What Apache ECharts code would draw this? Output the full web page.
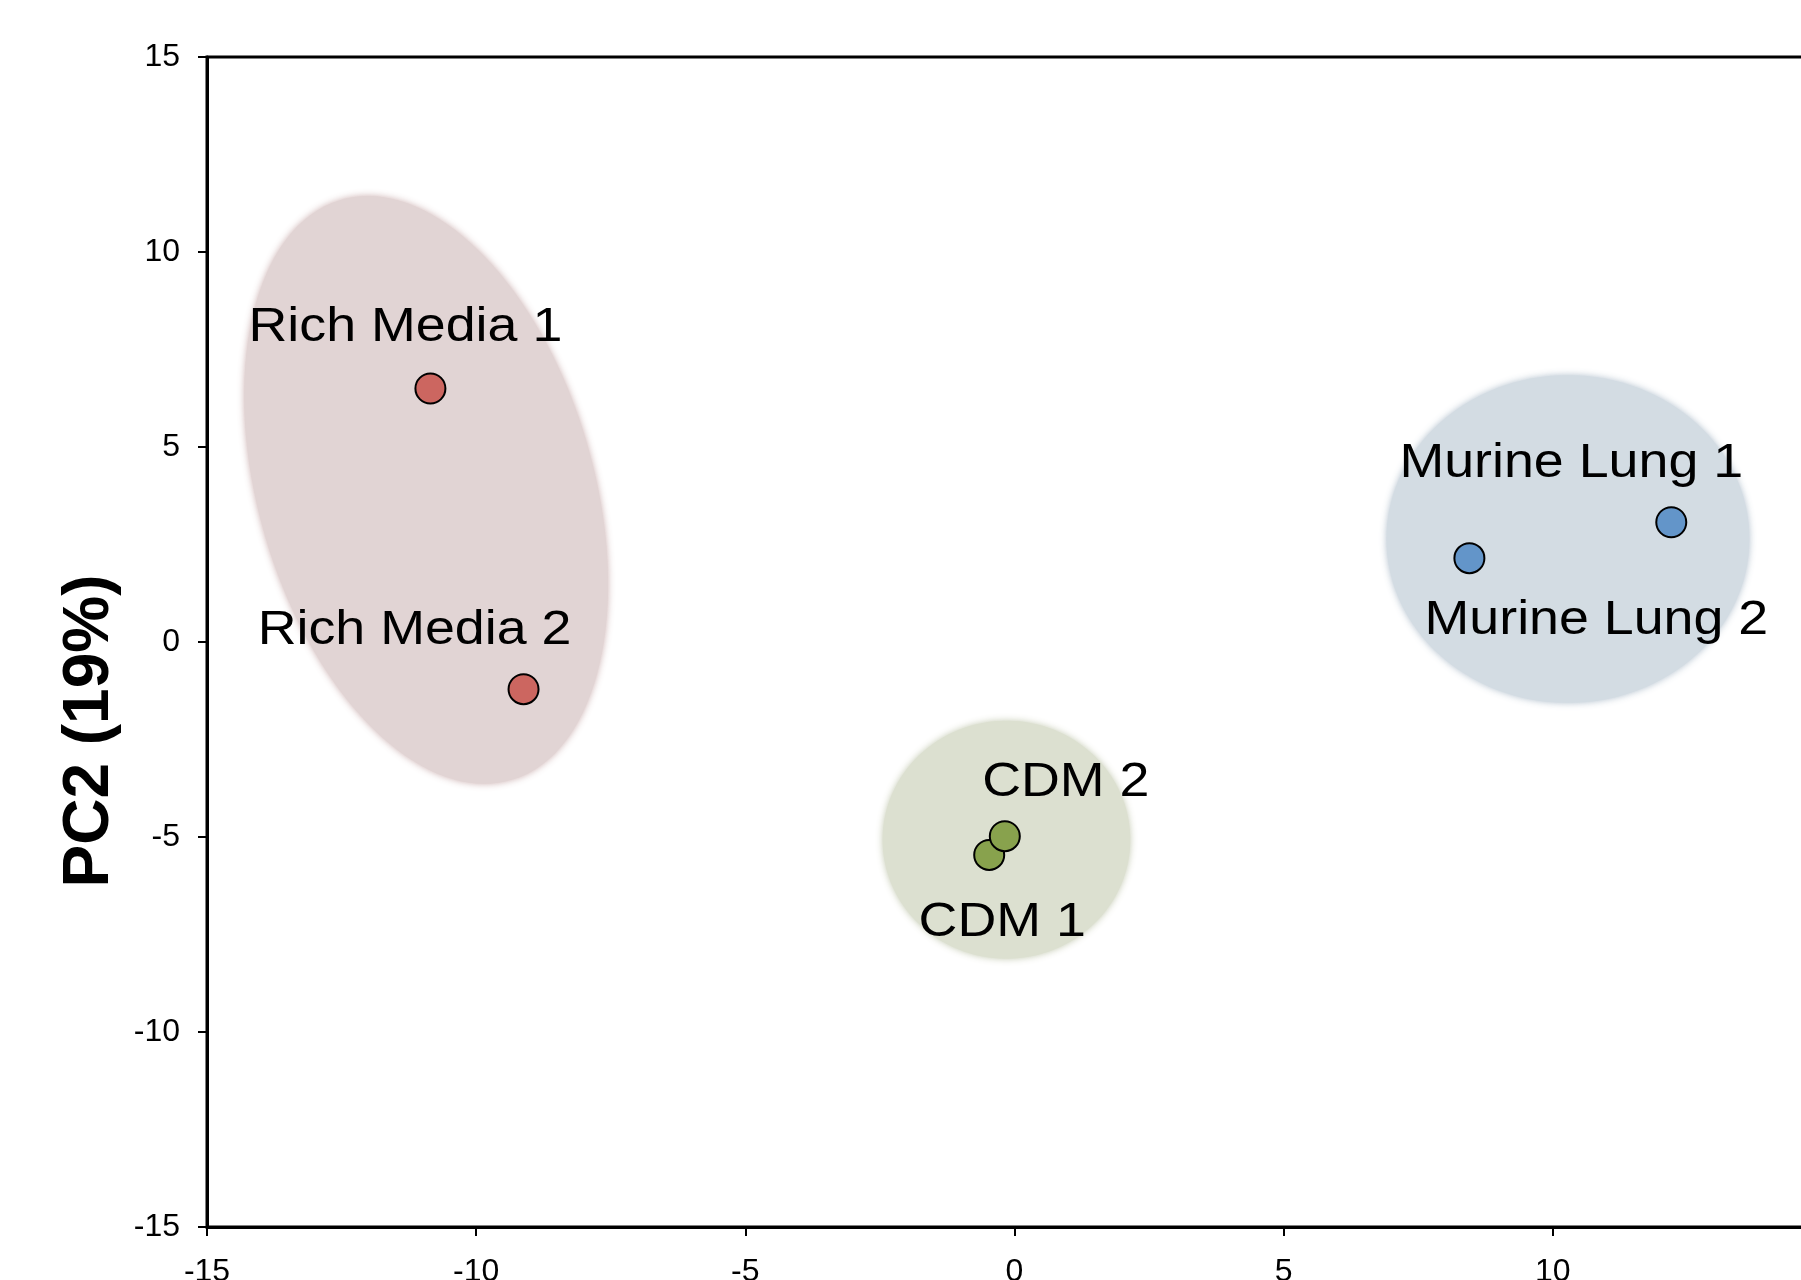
<!DOCTYPE html>
<html><head><meta charset="utf-8">
<script src="https://cdn.jsdelivr.net/npm/echarts@6/dist/echarts.min.js"></script>
<style>html,body{margin:0;padding:0;background:#fff}#c{width:1801px;height:1280px}</style>
</head><body><div id="c"></div>
<script>
// ---- data ----
const groups = ['Rich Media', 'CDM', 'Murine Lung'];
const sampleNames = ['Rich Media 1', 'Rich Media 2', 'CDM 1', 'CDM 2', 'Murine Lung 1', 'Murine Lung 2'];
const sampleGroup = [0, 0, 1, 1, 2, 2];
const pc1 = [-10.85, -9.12, -0.47, -0.18, 12.2, 8.45];
const pc2 = [6.5, -1.21, -5.46, -4.98, 3.07, 2.15];
const ellipseCenterX = [-10.93, -0.15, 10.28];
const ellipseCenterY = [3.9, -5.07, 2.64];
const ellipseRadiusX = [3.11, 2.3, 3.37];
const ellipseRadiusY = [7.75, 3.05, 4.2];
const ellipseAngleDeg = [16.4, 0, 0];
const axisMin = -15, axisMax = 15, axisStep = 5;
const yAxisTitle = 'PC2 (19%)';

// ---- styles ----
const pointColors = ['#CC6660', '#88A24D', '#6395C9'];
const ellipseColors = ['#E1D4D4', '#DCE0D0', '#D3DCE3'];
const ellipseEdge = ['rgba(200,170,170,0.9)', 'rgba(190,196,170,0.9)', 'rgba(170,185,200,0.9)'];
const labelOffsets = [[-25, -61], [-109, -58], [13, 68], [61, -53], [-100, -59], [127, 63]];
const FONT = '"Liberation Sans", Arial, Helvetica, sans-serif';

const chart = echarts.init(document.getElementById('c'), null, { renderer: 'canvas' });

const ellipseData = groups.map((g, i) => [ellipseCenterX[i], ellipseCenterY[i], ellipseRadiusX[i], ellipseRadiusY[i], ellipseAngleDeg[i]]);

const scatterSeries = groups.map((g, gi) => ({
  type: 'scatter',
  name: g,
  z: 3,
  symbol: 'circle',
  symbolSize: 30,
  itemStyle: { color: pointColors[gi], borderColor: '#000', borderWidth: 2, opacity: 1 },
  emphasis: { disabled: true },
  data: sampleNames.map((n, i) => sampleGroup[i] === gi ? [pc1[i], pc2[i]] : null).filter(d => d)
}));

const axisCommon = {
  type: 'value',
  min: axisMin, max: axisMax, interval: axisStep,
  splitLine: { show: false },
  axisLine: { show: true, onZero: false, lineStyle: { color: '#000', width: 3 } },
  axisTick: { show: true, inside: false, length: 9, lineStyle: { color: '#000', width: 2 } },
};

chart.setOption({
  animation: false,
  backgroundColor: '#fff',
  grid: { left: 207, width: 1615, top: 57, height: 1170, outerBoundsMode: 'none', containLabel: false, show: true, borderColor: '#000', borderWidth: 3, backgroundColor: 'transparent' },
  xAxis: Object.assign({}, axisCommon, {
    position: 'bottom',
    axisLabel: { color: '#000', fontSize: 32, fontFamily: FONT, margin: 29 }
  }),
  yAxis: Object.assign({}, axisCommon, {
    position: 'left',
    axisLabel: { color: '#000', fontSize: 32, fontFamily: FONT, margin: 27 },
    name: yAxisTitle,
    nameLocation: 'middle',
    nameRotate: 90,
    nameGap: 68,
    nameTextStyle: { color: '#000', fontSize: 64, fontWeight: 'bold', fontFamily: FONT, padding: [0, 178, 0, 0] }
  }),
  series: [
    {
      type: 'custom',
      name: 'groups',
      z: 1,
      silent: true,
      clip: false,
      data: ellipseData,
      encode: { x: 0, y: 1 },
      renderItem: function (params, api) {
        const i = params.dataIndex;
        const c = api.coord([api.value(0), api.value(1)]);
        const s = api.size([api.value(2), api.value(3)]);
        return {
          type: 'ellipse',
          x: c[0], y: c[1],
          rotation: api.value(4) * Math.PI / 180,
          shape: { cx: 0, cy: 0, rx: s[0], ry: s[1] },
          style: { fill: ellipseColors[i], shadowBlur: 7, shadowColor: ellipseEdge[i] }
        };
      }
    },
    ...scatterSeries,
    {
      type: 'custom',
      name: 'labels',
      z: 5,
      silent: true,
      clip: false,
      data: sampleNames.map((n, i) => [pc1[i], pc2[i], i]),
      encode: { x: 0, y: 1 },
      renderItem: function (params, api) {
        const i = api.value(2);
        const c = api.coord([api.value(0), api.value(1)]);
        const off = labelOffsets[i];
        return {
          type: 'text',
          x: c[0] + off[0], y: c[1] + off[1],
          scaleX: 1.12,
          style: { text: sampleNames[i], fill: '#000', font: '48px ' + FONT, align: 'center', verticalAlign: 'middle' }
        };
      }
    }
  ]
});
</script>
</body></html>
